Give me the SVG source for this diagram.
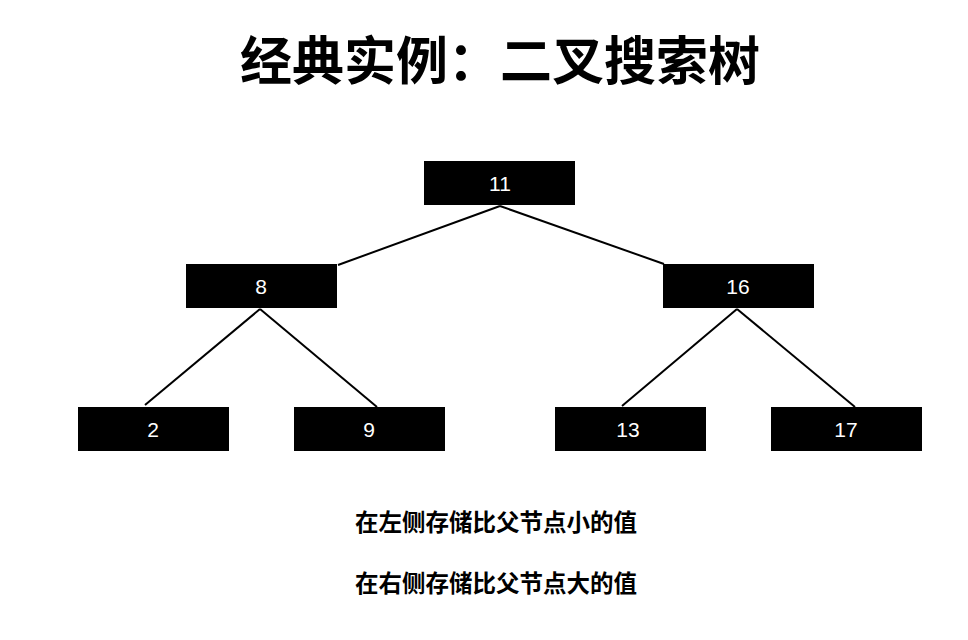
<svg xmlns="http://www.w3.org/2000/svg" width="968" height="640" viewBox="0 0 968 640">
<style>
.box{fill:#000}
.lbl{fill:#fff;font-family:"Liberation Sans",Arial,sans-serif;font-size:21px;text-anchor:middle}
.edge{stroke:#000;stroke-width:2;fill:none}
.title{font-family:"Noto Sans CJK SC",sans-serif;font-weight:bold;font-size:52px;text-anchor:middle;fill:#000}
.note{font-family:"Noto Sans CJK SC",sans-serif;font-weight:bold;font-size:23.5px;text-anchor:middle;fill:#000}
</style>
<rect width="968" height="640" fill="#fff"/>
<text class="title" x="500" y="80">经典实例：二叉搜索树</text>
<g id="connectors">
<line class="edge" x1="500" y1="206" x2="338" y2="265"/>
<line class="edge" x1="500" y1="206" x2="664" y2="264"/>
<line class="edge" x1="260" y1="309" x2="145" y2="405"/>
<line class="edge" x1="260" y1="309" x2="377" y2="407"/>
<line class="edge" x1="737" y1="309" x2="622" y2="406"/>
<line class="edge" x1="737" y1="309" x2="855" y2="407"/>
</g>
<g id="n11"><rect class="box" x="424" y="161" width="151" height="44"/><text class="lbl" x="500" y="191">11</text></g>
<g id="n8"><rect class="box" x="186" y="264" width="151" height="44"/><text class="lbl" x="261" y="294">8</text></g>
<g id="n16"><rect class="box" x="663" y="264" width="151" height="44"/><text class="lbl" x="738" y="294">16</text></g>
<g id="n2"><rect class="box" x="78" y="407" width="151" height="44"/><text class="lbl" x="153" y="437">2</text></g>
<g id="n9"><rect class="box" x="294" y="407" width="151" height="44"/><text class="lbl" x="369" y="437">9</text></g>
<g id="n13"><rect class="box" x="555" y="407" width="151" height="44"/><text class="lbl" x="628" y="437">13</text></g>
<g id="n17"><rect class="box" x="771" y="407" width="151" height="44"/><text class="lbl" x="846" y="437">17</text></g>
<text class="note" x="496" y="531">在左侧存储比父节点小的值</text>
<text class="note" x="496" y="592">在右侧存储比父节点大的值</text>
</svg>
